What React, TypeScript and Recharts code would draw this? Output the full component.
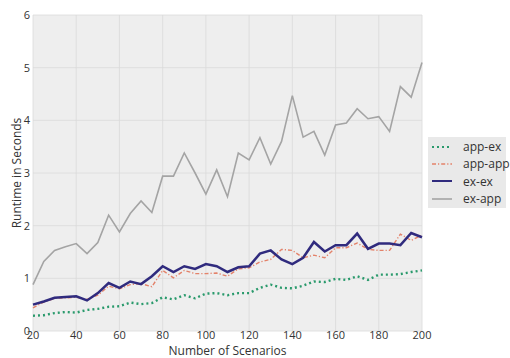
import React from 'react';
import { LineChart, Line, XAxis, YAxis, CartesianGrid, Legend } from 'recharts';

const scenarios = [
  20, 25, 30, 35, 40, 45, 50, 55, 60, 65, 70, 75, 80, 85, 90, 95, 100, 105, 110,
  115, 120, 125, 130, 135, 140, 145, 150, 155, 160, 165, 170, 175, 180, 185, 190, 195, 200,
];

const appEx = [
  0.29, 0.3, 0.34, 0.36, 0.35, 0.4, 0.42, 0.46, 0.47, 0.54, 0.51, 0.53, 0.64, 0.6, 0.68, 0.62, 0.71,
  0.72, 0.68, 0.72, 0.72, 0.82, 0.88, 0.82, 0.81, 0.86, 0.94, 0.93, 0.99, 0.97, 1.04, 0.97, 1.07, 1.07, 1.08, 1.12, 1.15,
];

const appApp = [
  0.44, 0.55, 0.62, 0.63, 0.64, 0.6, 0.68, 0.85, 0.8, 0.88, 0.9, 0.84, 1.15, 1.01, 1.15, 1.09, 1.09,
  1.1, 1.04, 1.18, 1.2, 1.31, 1.36, 1.55, 1.53, 1.39, 1.44, 1.39, 1.58, 1.58, 1.67, 1.55, 1.53, 1.53, 1.84, 1.72, 1.82,
];

const exEx = [
  0.5, 0.56, 0.63, 0.645, 0.66, 0.58, 0.72, 0.91, 0.82, 0.94, 0.89, 1.04, 1.23, 1.12, 1.23, 1.18, 1.27,
  1.23, 1.12, 1.21, 1.23, 1.47, 1.53, 1.36, 1.27, 1.39, 1.69, 1.51, 1.63, 1.63, 1.85, 1.56, 1.66, 1.66, 1.63, 1.86, 1.78,
];

const exApp = [
  0.88, 1.32, 1.53, 1.6, 1.66, 1.47, 1.68, 2.2, 1.88, 2.23, 2.47, 2.25, 2.94, 2.94, 3.38, 3.0, 2.6,
  3.06, 2.55, 3.38, 3.25, 3.67, 3.17, 3.6, 4.47, 3.68, 3.79, 3.34, 3.91, 3.95, 4.22, 4.03, 4.07, 3.79, 4.64, 4.44, 5.1,
];

const seriesOrder = ['app-ex', 'app-app', 'ex-ex', 'ex-app'];
const xTicks = [20, 40, 60, 80, 100, 120, 140, 160, 180, 200];
const yTicks = [0, 1, 2, 3, 4, 5, 6];

const data = scenarios.map((n, i) => ({
  n,
  appEx: appEx[i],
  appApp: appApp[i],
  exEx: exEx[i],
  exApp: exApp[i],
}));

const FONT = '"Open Sans", "Noto Sans", sans-serif';
const TEXT = '#333333';

const YLabel = (props: any) => {
  const { viewBox } = props;
  const cx = viewBox.x + 16;
  const cy = 173;
  return (
    <text
      x={cx}
      y={cy}
      transform={`rotate(-90 ${cx} ${cy})`}
      textAnchor="middle"
      dominantBaseline="central"
      fontSize={12}
      fill={TEXT}
      fontFamily={FONT}
    >
      Runtime in Seconds
    </text>
  );
};

// legend drawn as a small gray box with short line samples, in series order
const LegendBox = (props: any) => {
  const items = [...(props.payload || [])].sort(
    (a: any, b: any) => seriesOrder.indexOf(a.value) - seriesOrder.indexOf(b.value)
  );
  return (
    <div
      style={{
        background: '#e9e9e9',
        width: 78,
        height: 71,
        boxSizing: 'border-box',
        paddingTop: 1,
        fontFamily: FONT,
      }}
    >
      {items.map((entry: any) => (
        <div key={entry.value} style={{ display: 'flex', alignItems: 'center', height: 17.3, whiteSpace: 'nowrap' }}>
          <svg width={33} height={10} style={{ marginLeft: 2, flexShrink: 0 }}>
            <line
              x1={2}
              y1={5}
              x2={22}
              y2={5}
              stroke={entry.color}
              strokeWidth={Math.min(entry.payload.strokeWidth, 2)}
              strokeDasharray={entry.payload.strokeDasharray}
            />
          </svg>
          <span style={{ fontSize: 12, color: TEXT }}>{entry.value}</span>
        </div>
      ))}
    </div>
  );
};

export default function App() {
  return (
    <div style={{ position: 'absolute', left: 0, top: 0, width: 510, height: 358, background: '#ffffff' }}>
      <LineChart width={510} height={358} data={data} margin={{ top: 15, right: 10, bottom: 0, left: 0 }}>
        <CartesianGrid stroke="#dadada" strokeWidth={0.8} fill="#eeeeee" verticalValues={xTicks} horizontalValues={yTicks} />
        <XAxis
          dataKey="n"
          type="number"
          domain={[20, 200]}
          ticks={xTicks}
          axisLine={false}
          tickLine={false}
          tickSize={0}
          tickMargin={0}
          height={27}
          tick={{ fontSize: 11, fill: TEXT, fontFamily: FONT }}
          label={{
            value: 'Number of Scenarios',
            position: 'insideBottom',
            offset: 3,
            style: { fontSize: 12, fill: TEXT, fontFamily: FONT },
          }}
        />
        <YAxis
          type="number"
          domain={[0, 6]}
          ticks={yTicks}
          axisLine={false}
          tickLine={false}
          tickSize={0}
          tickMargin={3}
          width={33}
          tick={{ fontSize: 11, fill: TEXT, fontFamily: FONT }}
          label={<YLabel />}
        />
        <Legend
          content={<LegendBox />}
          layout="vertical"
          align="right"
          verticalAlign="middle"
          wrapperStyle={{ position: 'absolute', left: 428, top: 137, width: 78, height: 71 }}
        />
        <Line
          dataKey="appEx"
          name="app-ex"
          stroke="#2a9a6c"
          strokeWidth={2.4}
          strokeDasharray="2 3"
          dot={false}
          isAnimationActive={false}
        />
        <Line
          dataKey="appApp"
          name="app-app"
          stroke="#e3826a"
          strokeWidth={1.4}
          strokeDasharray="4 2 1.2 2"
          dot={false}
          isAnimationActive={false}
        />
        <Line
          dataKey="exEx"
          name="ex-ex"
          stroke="#302b7e"
          strokeWidth={2.5}
          dot={false}
          isAnimationActive={false}
        />
        <Line
          dataKey="exApp"
          name="ex-app"
          stroke="#a4a4a4"
          strokeWidth={1.6}
          dot={false}
          isAnimationActive={false}
        />
      </LineChart>
    </div>
  );
}
